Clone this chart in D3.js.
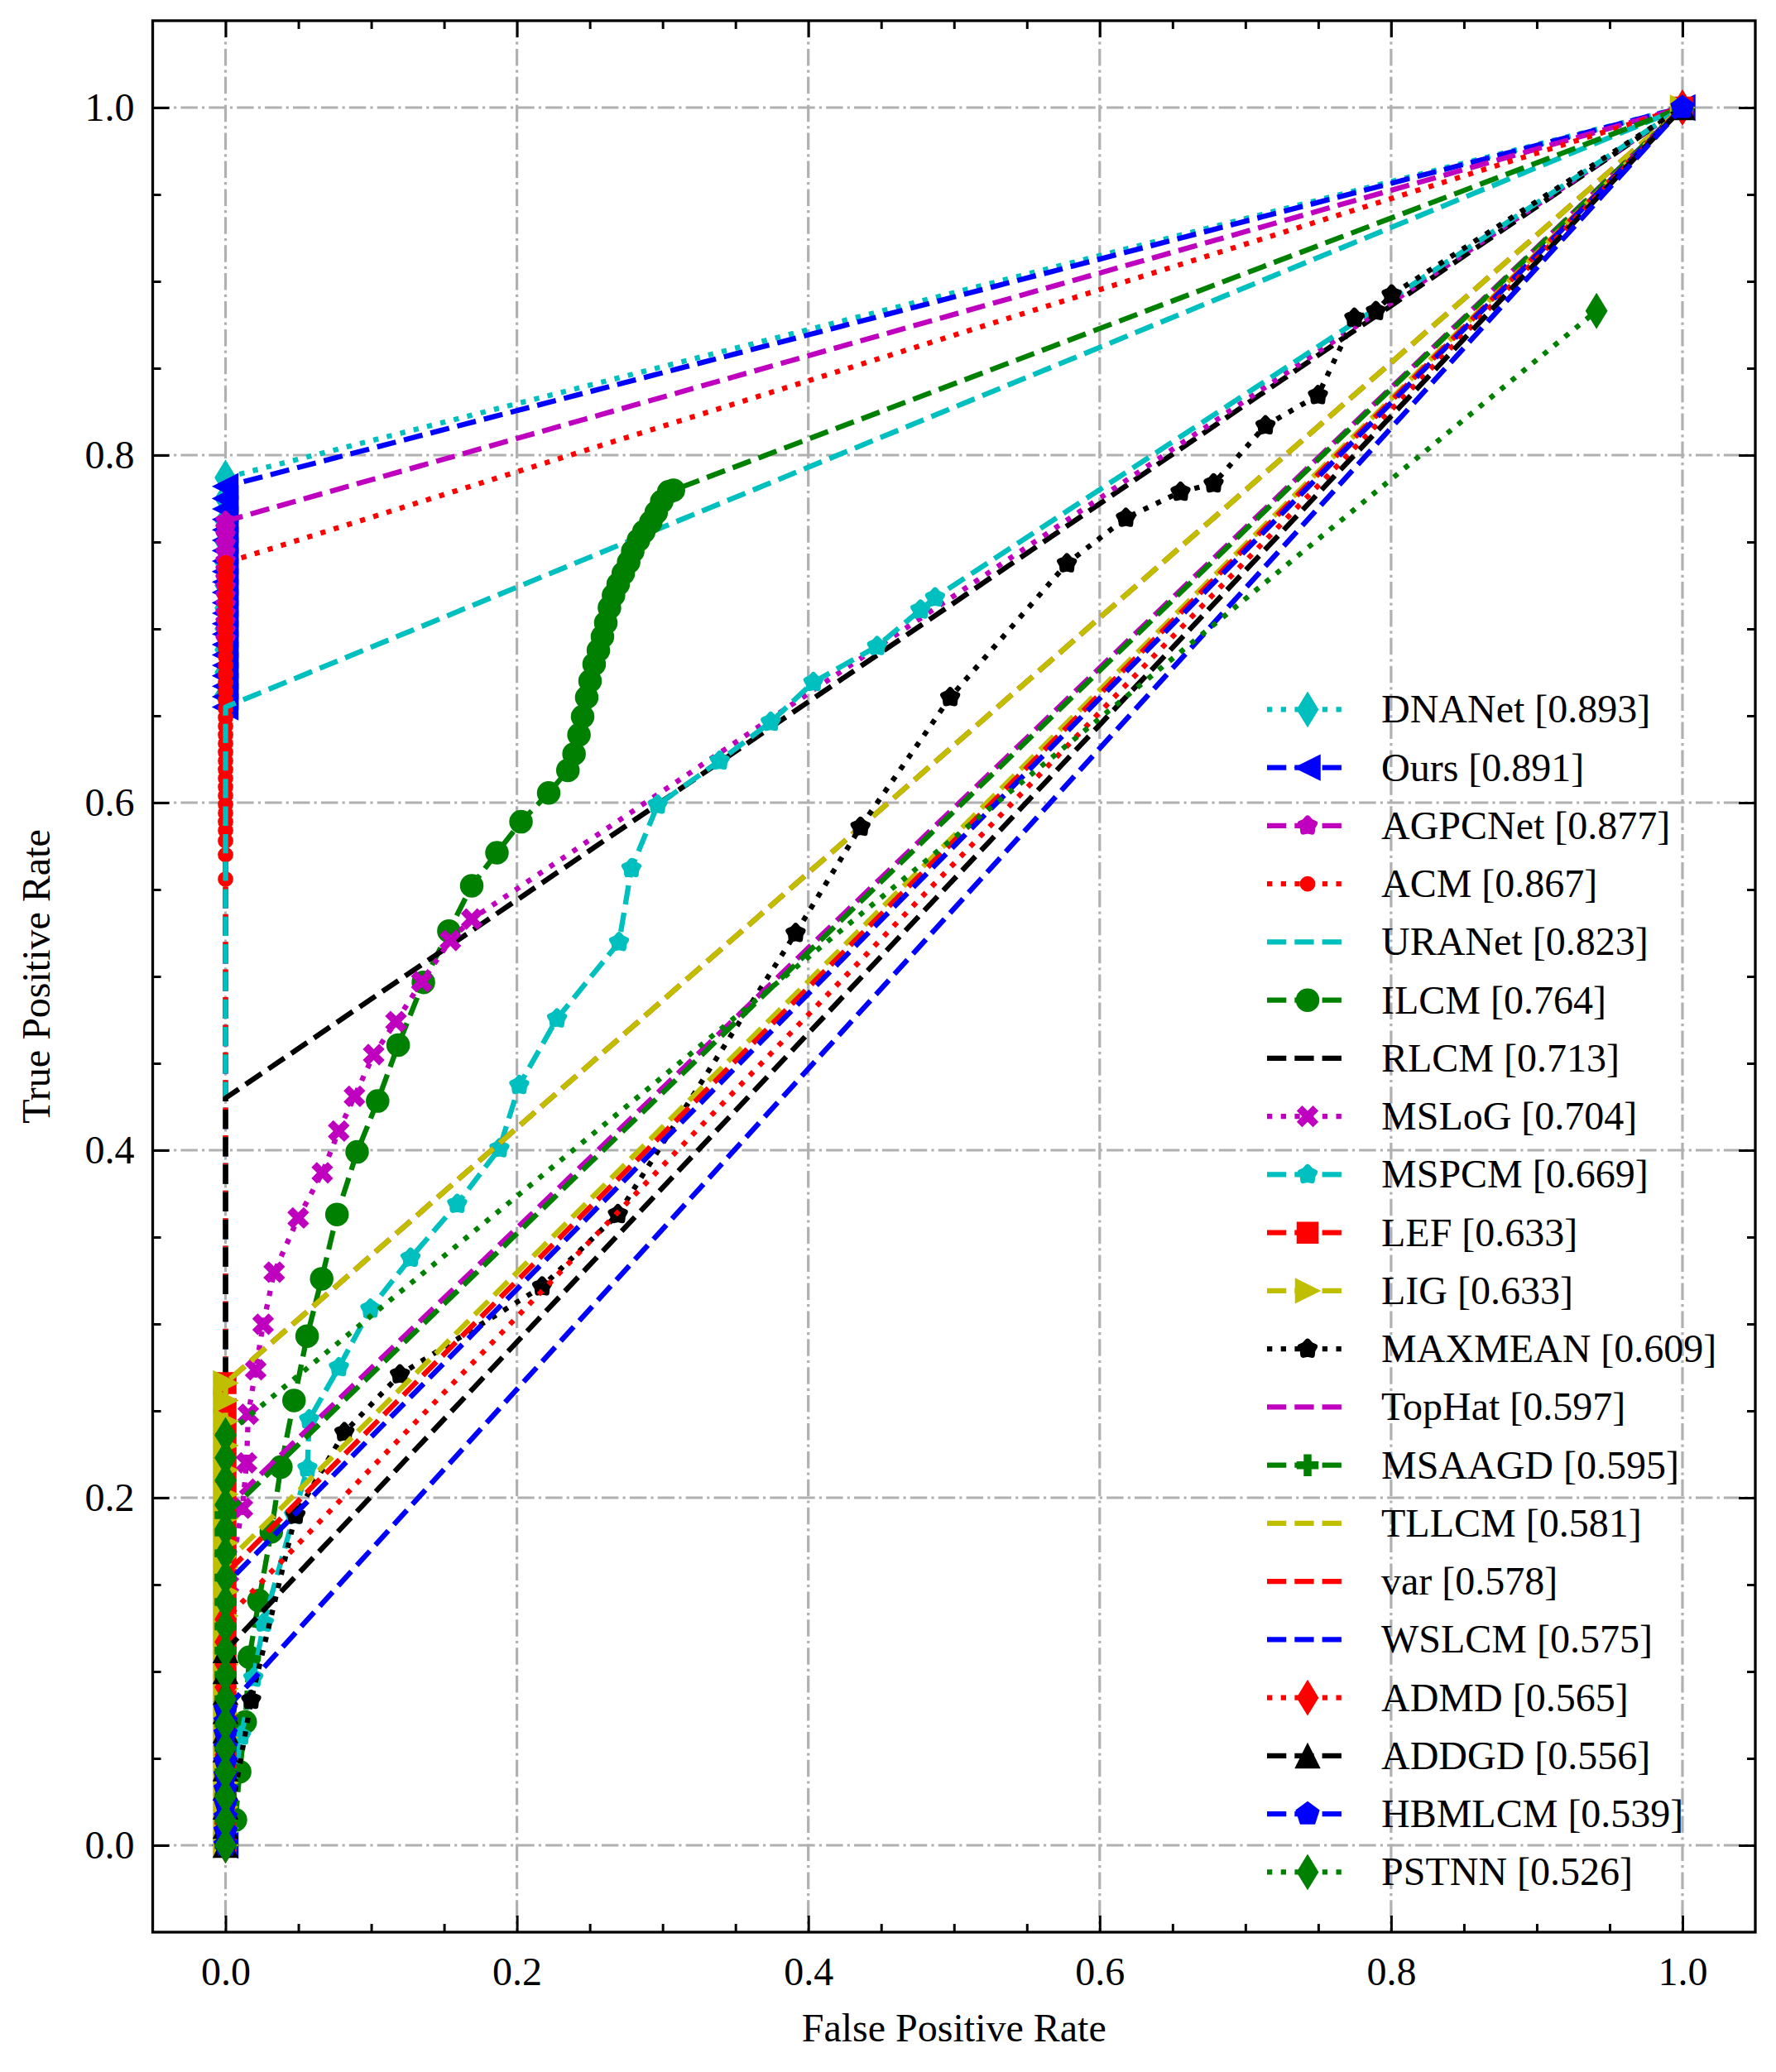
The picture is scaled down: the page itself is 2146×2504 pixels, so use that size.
<!DOCTYPE html>
<html><head><meta charset="utf-8">
<script src="https://cdn.jsdelivr.net/npm/d3@7"></script>
<style>body{margin:0;background:#fff}text{font-family:"Liberation Serif","Times New Roman",serif}</style>
</head><body>
<svg id="chart" width="2146" height="2504"></svg>
<script>
// ---------------- data ----------------
const methods = ["DNANet","Ours","AGPCNet","ACM","URANet","ILCM","RLCM","MSLoG","MSPCM","LEF","LIG","MAXMEAN","TopHat","MSAAGD","TLLCM","var","WSLCM","ADMD","ADDGD","HBMLCM","PSTNN"];
const aucs = ["0.893","0.891","0.877","0.867","0.823","0.764","0.713","0.704","0.669","0.633","0.633","0.609","0.597","0.595","0.581","0.578","0.575","0.565","0.556","0.539","0.526"];
const xTicks = [0.0,0.2,0.4,0.6,0.8,1.0];
const yTicks = [0.0,0.2,0.4,0.6,0.8,1.0];
const minorTicks = [0.05,0.1,0.15,0.25,0.3,0.35,0.45,0.5,0.55,0.65,0.7,0.75,0.85,0.9,0.95];

const fprDNANet = [0,0,0,0,0,0,0,0,0,0,0,0,1];
const tprDNANet = [0,0.662,0.675,0.688,0.7,0.712,0.725,0.738,0.75,0.762,0.775,0.787,1];
const fprOurs = [0,0,0,0,0,0,0,0,0,0,0,0,0,0,0,0,0,0,0,0,0,0,0,1];
const tprOurs = [0,0.655,0.661,0.667,0.673,0.679,0.685,0.691,0.697,0.703,0.709,0.715,0.721,0.727,0.733,0.739,0.745,0.751,0.757,0.763,0.769,0.775,0.782,1];
const fprAGPCNet = [0,0,0,0,0,0,0,0,0,0,0,0,0,0,0,0,1];
const tprAGPCNet = [0,0.694,0.699,0.704,0.709,0.714,0.719,0.724,0.729,0.734,0.739,0.744,0.749,0.754,0.758,0.762,1];
const fprACM = [0,0,0,0,0,0,0,0,0,0,0,0,0,0,0,0,0,0,0,0,0,0,0,0,0,0,0,0,0,0,0,0,0,0,0,0,1];
const tprACM = [0,0.556,0.57,0.578,0.584,0.589,0.594,0.599,0.604,0.609,0.614,0.619,0.624,0.629,0.634,0.639,0.644,0.649,0.654,0.659,0.664,0.669,0.674,0.679,0.684,0.689,0.694,0.699,0.704,0.709,0.714,0.719,0.724,0.729,0.733,0.738,1];
const fprURANet = [0,0,1];
const tprURANet = [0,0.655,1];
const fprILCM = [0,0.0068,0.0097,0.0135,0.0163,0.0229,0.0314,0.038,0.047,0.056,0.066,0.0765,0.0903,0.1044,0.1185,0.1358,0.1533,0.169,0.1863,0.2028,0.2218,0.235,0.2392,0.2426,0.2451,0.2479,0.2502,0.253,0.2559,0.2587,0.261,0.2635,0.2663,0.2695,0.273,0.2767,0.2795,0.2834,0.2871,0.2919,0.2956,0.2994,0.3042,0.3074,1];
const tprILCM = [0,0.0146,0.0423,0.0709,0.1082,0.1408,0.1804,0.2177,0.256,0.293,0.326,0.363,0.399,0.4283,0.4605,0.4966,0.5261,0.5522,0.5712,0.589,0.6056,0.6186,0.628,0.639,0.6495,0.6606,0.67,0.6797,0.6876,0.6955,0.7035,0.7122,0.7193,0.7257,0.732,0.7384,0.7447,0.751,0.7559,0.7614,0.767,0.7733,0.7789,0.7798,1];
const fprRLCM = [0,0,1];
const tprRLCM = [0,0.43,1];
const fprMSLoG = [0,0.002,0.0116,0.0144,0.0156,0.0207,0.0258,0.0334,0.0499,0.0664,0.0777,0.0885,0.1017,0.117,0.1347,0.1543,0.169,1];
const tprMSLoG = [0,0.15,0.194,0.2201,0.248,0.2736,0.2998,0.3298,0.361,0.387,0.411,0.431,0.455,0.474,0.497,0.5207,0.533,1];
const fprMSPCM = [0,0.0106,0.0191,0.0263,0.047,0.0562,0.0574,0.0778,0.0994,0.127,0.159,0.188,0.2016,0.2275,0.2701,0.2786,0.2966,0.3392,0.3742,0.4035,0.4472,0.477,0.487,1];
const tprMSPCM = [0,0.063,0.0963,0.128,0.19,0.217,0.245,0.275,0.3087,0.338,0.369,0.401,0.4374,0.4757,0.5197,0.5622,0.5987,0.6241,0.6464,0.6693,0.69,0.711,0.718,1];
const fprLEF = [0,0,0,0,0,0,0,0,0,0,0,0,0,0,0,0,0,0,0,0,1];
const tprLEF = [0,0.013,0.027,0.041,0.055,0.069,0.083,0.097,0.111,0.125,0.139,0.153,0.167,0.181,0.195,0.209,0.223,0.237,0.251,0.266,1];
const fprLIG = [0,0,0,0,0,0,0,0,0,0,0,0,0,0,0,0,0,0,0,0,0,1];
const tprLIG = [0,0.01,0.022,0.036,0.05,0.062,0.076,0.09,0.104,0.118,0.132,0.146,0.16,0.174,0.188,0.202,0.216,0.23,0.244,0.256,0.266,1];
const fprMAXMEAN = [0,0.0176,0.048,0.0816,0.1197,0.2173,0.2693,0.3913,0.4358,0.4974,0.5775,0.618,0.6555,0.6782,0.7138,0.7498,0.7748,0.7896,0.8004,1];
const tprMAXMEAN = [0,0.0836,0.19,0.2376,0.2709,0.3215,0.3631,0.5249,0.586,0.6606,0.7376,0.7638,0.7788,0.7836,0.817,0.8344,0.8789,0.8828,0.8923,1];
const fprTopHat = [0,0,1];
const tprTopHat = [0,0.194,1];
const fprMSAAGD = [0,0,0,0,0,0,0,0,0,0,0,0,0,0,0,1];
const tprMSAAGD = [0,0.014,0.028,0.042,0.056,0.07,0.084,0.098,0.112,0.126,0.14,0.154,0.168,0.18,0.19,1];
const fprTLLCM = [0,0,1];
const tprTLLCM = [0,0.162,1];
const fprVar = [0,0,1];
const tprVar = [0,0.156,1];
const fprWSLCM = [0,0,1];
const tprWSLCM = [0,0.15,1];
const fprADMD = [0,0,0,0,0,0,0,0,0,0,0,1];
const tprADMD = [0,0.013,0.026,0.039,0.052,0.065,0.078,0.091,0.104,0.117,0.13,1];
const fprADDGD = [0,0,0,0,0,0,0,0,0,0,0,1];
const tprADDGD = [0,0.011,0.022,0.033,0.044,0.055,0.066,0.077,0.088,0.1,0.112,1];
const fprHBMLCM = [0,0,0,0,0,0,0,0,0,0,0,1];
const tprHBMLCM = [0,0.008,0.016,0.024,0.032,0.04,0.048,0.056,0.064,0.071,0.078,1];
const fprPSTNN = [0,0,0,0,0,0,0,0,0,0,0,0,0,0,0,0,0,0,0.941];
const tprPSTNN = [0,0.014,0.028,0.042,0.056,0.07,0.084,0.098,0.112,0.126,0.14,0.154,0.168,0.182,0.196,0.21,0.223,0.236,0.883];

const fprList = [fprDNANet,fprOurs,fprAGPCNet,fprACM,fprURANet,fprILCM,fprRLCM,fprMSLoG,fprMSPCM,fprLEF,fprLIG,fprMAXMEAN,fprTopHat,fprMSAAGD,fprTLLCM,fprVar,fprWSLCM,fprADMD,fprADDGD,fprHBMLCM,fprPSTNN];
const tprList = [tprDNANet,tprOurs,tprAGPCNet,tprACM,tprURANet,tprILCM,tprRLCM,tprMSLoG,tprMSPCM,tprLEF,tprLIG,tprMAXMEAN,tprTopHat,tprMSAAGD,tprTLLCM,tprVar,tprWSLCM,tprADMD,tprADDGD,tprHBMLCM,tprPSTNN];

// ---------------- styles ----------------
const colorCodes = ["c","b","m","r","c","g","k","m","c","r","y","k","m","g","y","r","b","r","k","b","g"];
const lineStyles = [":","--","--",":","--","--","--",":","--","--","--",":","--","--","--","--","--",":","--","--",":"];
const markerKinds = ["d","<","*",".","","o","","X","*","s",">","*","","P","","","","d","^","p","d"];
const palette = {c:"#00bfbf",b:"#0000ff",m:"#bf00bf",r:"#ff0000",g:"#008000",k:"#000000",y:"#bfbf00"};
const LW = 6.3;
const dashArr = {"--":"23.3,10", ":":"6.3,10.4"};

const svg = d3.select("#chart");
const L = 184.5, R = 2121, T = 25, B = 2335;
const x = d3.scaleLinear().domain([-0.05,1.05]).range([L,R]);
const y = d3.scaleLinear().domain([-0.05,1.05]).range([B,T]);

function starPath(Ro, ratio){
  const ri = Ro*ratio, pts=[];
  for(let k=0;k<10;k++){const a=-Math.PI/2+k*Math.PI/5; const rr=k%2?ri:Ro; pts.push([rr*Math.cos(a), rr*Math.sin(a)]);}
  return "M"+pts.map(p=>p[0].toFixed(2)+","+p[1].toFixed(2)).join("L")+"Z";
}
function polyPath(n, Ro){
  const pts=[];
  for(let k=0;k<n;k++){const a=-Math.PI/2+k*2*Math.PI/n; pts.push([Ro*Math.cos(a), Ro*Math.sin(a)]);}
  return "M"+pts.map(p=>p[0].toFixed(2)+","+p[1].toFixed(2)).join("L")+"Z";
}
function plusPts(Lh, h){
  return [[h,-Lh],[h,-h],[Lh,-h],[Lh,h],[h,h],[h,Lh],[-h,Lh],[-h,h],[-Lh,h],[-Lh,-h],[-h,-h],[-h,-Lh]];
}
function xPath(){
  const c=Math.SQRT1_2;
  const pts = plusPts(13.2,3.9).map(p=>[(p[0]-p[1])*c,(p[0]+p[1])*c]);
  return "M"+pts.map(p=>p[0].toFixed(2)+","+p[1].toFixed(2)).join("L")+"Z";
}
function markerPath(kind){
  switch(kind){
    case "d": return "M0,-20.5L12.5,0L0,20.5L-12.5,0Z";
    case "<": return "M-15,0L15,-15L15,15Z";
    case ">": return "M14.5,0L-14.5,-14.5L-14.5,14.5Z";
    case "^": return "M0,-14.5L14.5,14.5L-14.5,14.5Z";
    case "o": return d3.symbol(d3.symbolCircle, Math.PI*13.5*13.5)();
    case ".": return d3.symbol(d3.symbolCircle, Math.PI*8.6*8.6)();
    case "*": return starPath(9, 0.68);
    case "X": return xPath();
    case "s": return "M-12.5,-12.5H12.5V12.5H-12.5Z";
    case "P": return "M"+plusPts(12.5,4).map(p=>p.join(",")).join("L")+"Z";
    case "p": return polyPath(5,14.5);
  }
  return null;
}
function markerStroke(kind){ return kind==="*" ? 7 : 1.5; }

// ---------------- grid ----------------
const grid = svg.append("g");
xTicks.forEach(v=>grid.append("line").attr("x1",x(v)).attr("x2",x(v)).attr("y1",T).attr("y2",B));
yTicks.forEach(v=>grid.append("line").attr("y1",y(v)).attr("y2",y(v)).attr("x1",L).attr("x2",R));
grid.selectAll("line").attr("stroke","#b0b0b0").attr("stroke-width",3.2).attr("stroke-dasharray","20.5,5.1,3.2,5.1");

// ---------------- series ----------------
const line = d3.line().x(d=>x(d[0])).y(d=>y(d[1]));
const plot = svg.append("g");
methods.forEach((name,i)=>{
  const pts = fprList[i].map((f,j)=>[f,tprList[i][j]]);
  const col = palette[colorCodes[i]];
  const g = plot.append("g");
  g.append("path").attr("d",line(pts)).attr("fill","none").attr("stroke",col)
    .attr("stroke-width",LW).attr("stroke-dasharray",dashArr[lineStyles[i]])
    .attr("stroke-linecap","butt").attr("stroke-linejoin","round");
  const mk = markerKinds[i];
  const mp = markerPath(mk);
  if(mp){
    g.selectAll("path.m").data(pts).join("path").attr("class","m")
      .attr("d",mp).attr("transform",d=>`translate(${x(d[0])},${y(d[1])})`)
      .attr("fill",col).attr("stroke",col).attr("stroke-width",markerStroke(mk))
      .attr("stroke-linejoin",mk==="*"?"round":"miter");
  }
});

// ---------------- axes ----------------
const fmt = d3.format(".1f");
function styleAxis(g){
  g.select(".domain").remove();
  g.selectAll(".tick line").attr("stroke","#000").attr("stroke-width",3);
  g.selectAll(".tick text").attr("fill","#000").style("font-size","48px").style("font-family","'Liberation Serif','Times New Roman',serif");
}
svg.append("g").attr("transform",`translate(0,${B})`).call(d3.axisBottom(x).tickValues(xTicks).tickSize(-20).tickPadding(30).tickFormat(fmt)).call(styleAxis);
svg.append("g").attr("transform",`translate(0,${B})`).call(d3.axisBottom(x).tickValues(minorTicks).tickSize(-10).tickFormat("")).call(styleAxis);
svg.append("g").attr("transform",`translate(0,${T})`).call(d3.axisTop(x).tickValues(xTicks).tickSize(-20).tickFormat("")).call(styleAxis);
svg.append("g").attr("transform",`translate(0,${T})`).call(d3.axisTop(x).tickValues(minorTicks).tickSize(-10).tickFormat("")).call(styleAxis);
svg.append("g").attr("transform",`translate(${L},0)`).call(d3.axisLeft(y).tickValues(yTicks).tickSize(-20).tickPadding(22).tickFormat(fmt)).call(styleAxis);
svg.append("g").attr("transform",`translate(${L},0)`).call(d3.axisLeft(y).tickValues(minorTicks).tickSize(-10).tickFormat("")).call(styleAxis);
svg.append("g").attr("transform",`translate(${R},0)`).call(d3.axisRight(y).tickValues(yTicks).tickSize(-20).tickFormat("")).call(styleAxis);
svg.append("g").attr("transform",`translate(${R},0)`).call(d3.axisRight(y).tickValues(minorTicks).tickSize(-10).tickFormat("")).call(styleAxis);

svg.append("rect").attr("x",L).attr("y",T).attr("width",R-L).attr("height",B-T)
  .attr("fill","none").attr("stroke","#000").attr("stroke-width",3.3);

svg.append("text").attr("x",(L+R)/2).attr("y",2467).attr("text-anchor","middle")
  .style("font-size","48px").text("False Positive Rate");
svg.append("text").attr("transform",`translate(60,${(T+B)/2}) rotate(-90)`).attr("text-anchor","middle")
  .style("font-size","48px").text("True Positive Rate");

// ---------------- legend ----------------
const lg = svg.append("g");
methods.forEach((name,i)=>{
  const yy = 857.4 + i*70.25;
  const col = palette[colorCodes[i]];
  lg.append("line").attr("x1",1531).attr("x2",1629).attr("y1",yy).attr("y2",yy)
    .attr("stroke",col).attr("stroke-width",LW).attr("stroke-dasharray",dashArr[lineStyles[i]]).attr("stroke-linecap","butt");
  const mk = markerKinds[i];
  const mp = markerPath(mk);
  if(mp){
    lg.append("path").attr("d",mp).attr("transform",`translate(1580,${yy})`)
      .attr("fill",col).attr("stroke",col).attr("stroke-width",markerStroke(mk)).attr("stroke-linejoin",mk==="*"?"round":"miter");
  }
  lg.append("text").attr("x",1669).attr("y",yy+16).style("font-size","48px").attr("fill","#000")
    .text(`${name} [${aucs[i]}]`);
});
</script>
</body></html>
